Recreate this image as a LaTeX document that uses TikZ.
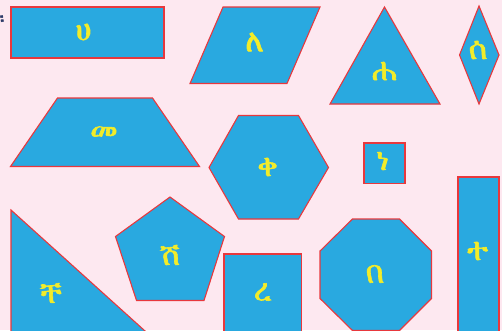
\documentclass[tikz,border=0pt]{standalone}
\usepackage{fontspec}
\newif\ifethfound
\newcommand\tryethfont[1]{%
  \ifethfound\else
    \IfFontExistsTF{#1}{%
      \setfontfamily\candfont{#1}%
      \setbox0=\hbox{\candfont\iffontchar\font"1200 \global\ethfoundtrue\fi}%
      \ifethfound
        \setfontfamily\ethfont{#1}[FakeBold=2,FakeSlant=-0.15]%
      \fi
    }{}%
  \fi}
\tryethfont{FreeSans}
\tryethfont{FreeSerif}
\tryethfont{Abyssinica SIL}
\ifethfound\else\setfontfamily\ethfont{DejaVu Sans}\fi
\definecolor{bgpink}{HTML}{FDE8F0}
\definecolor{shapeblue}{HTML}{29A9E0}
\definecolor{edgered}{HTML}{E8383D}
\definecolor{lettery}{HTML}{F2EC2A}
\definecolor{navy}{HTML}{2B3A67}
\tikzset{
  shp/.style={fill=shapeblue, draw=edgered, line width=1.1pt, line join=miter},
  lbl/.style={text=lettery, font=\ethfont\fontsize{31}{31}\selectfont, inner sep=0pt},
}
\begin{document}
\begin{tikzpicture}[x=1pt,y=-1pt]
\fill[bgpink] (0,0) rectangle (502,330);
\useasboundingbox (0,0) rectangle (502,330);
% separator at the left edge
\node[text=navy, font=\ethfont\fontsize{18}{20}\selectfont, inner sep=0pt, anchor=west] (sep) at (0.5,20) {፡};
% rectangle
\draw[shp] (11,7) rectangle (164,58);
\node[lbl] (t1) at (85,32) {ሀ};
% parallelogram
\draw[shp] (223,7) -- (320,7) -- (287,83.5) -- (190,83.5) -- cycle;
\node[lbl] (t2) at (255,42) {ለ};
% triangle
\draw[shp] (384.5,7) -- (440,104) -- (330,104) -- cycle;
\node[lbl] (t3) at (385,71) {ሐ};
% diamond
\draw[shp] (479,6) -- (499,55) -- (479,104) -- (459.5,55) -- cycle;
\node[lbl] (t4) at (479,50) {ሰ};
% trapezoid
\draw[shp] (57.5,98) -- (152.5,98) -- (199.5,166.5) -- (10.5,166.5) -- cycle;
\node[lbl] (t5) at (105,133) {መ};
% hexagon
\draw[shp] (238.5,115.5) -- (298.5,115.5) -- (328.5,167.5) -- (298.5,219) -- (238.5,219) -- (209,167.5) -- cycle;
\node[lbl] (t6) at (269,167) {ቀ};
% small square
\draw[shp] (364,143) rectangle (405,183.5);
\node[lbl] (t7) at (384.5,161) {ነ};
% right triangle
\draw[shp] (11,210) -- (155,340) -- (11,340) -- cycle;
\node[lbl] (t8) at (53,293) {ቸ};
% pentagon
\draw[shp] (170,197) -- (224.5,236.5) -- (204,300.5) -- (136.5,300.5) -- (115.5,236.5) -- cycle;
\node[lbl] (t9) at (172,255) {ሸ};
% bottom rectangle
\draw[shp] (224,254) rectangle (301.5,340);
\node[lbl] (t10) at (263,292) {ረ};
% octagon
\draw[shp] (352.5,219) -- (399.5,219) -- (431.5,251) -- (431.5,298.5) -- (399.5,330.5) -- (352.5,330.5) -- (320,298.5) -- (320,251) -- cycle;
\node[lbl] (t11) at (376,274) {በ};
% tall rectangle
\draw[shp] (458,177) rectangle (499,340);
\node[lbl] (t12) at (479,251) {ተ};
\end{tikzpicture}
\end{document}
